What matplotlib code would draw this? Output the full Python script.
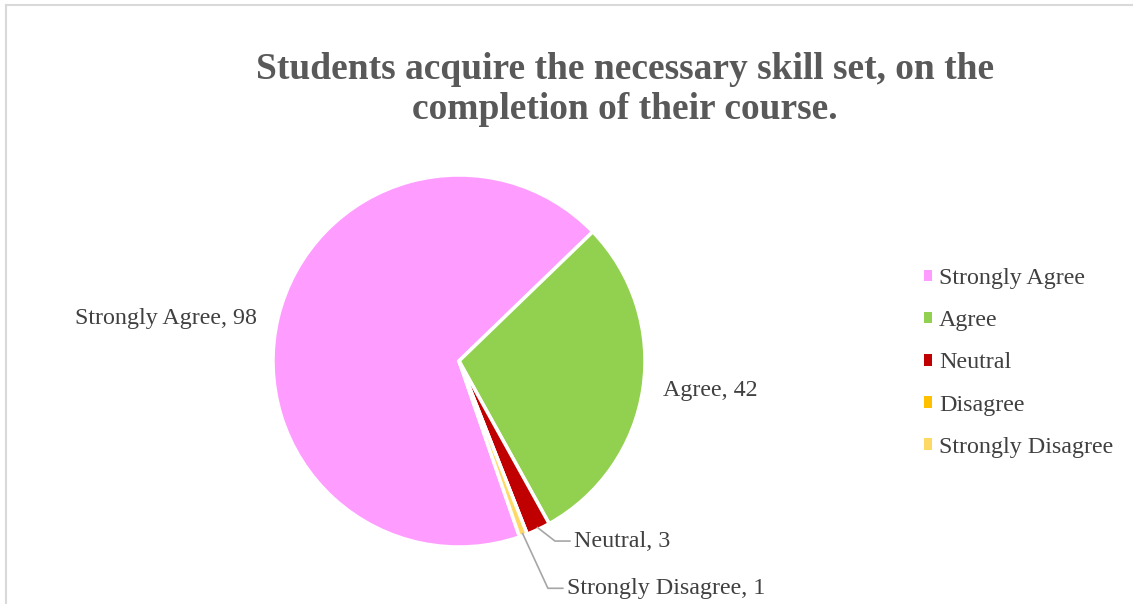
import numpy as np
import matplotlib
matplotlib.use("Agg")
from matplotlib import pyplot as plt
from matplotlib.patches import Patch
from matplotlib.lines import Line2D

categories = ["Strongly Agree", "Agree", "Neutral", "Disagree", "Strongly Disagree"]
counts = [98, 42, 3, 0, 1]
colors = ["#ff9cff", "#92d050", "#c00000", "#ffc000", "#ffd966"]

title = "Students acquire the necessary skill set, on the\ncompletion of their course."

plt.rcParams['font.family'] = ['Liberation Serif', 'DejaVu Serif']

W, H = 1133, 604
fig = plt.figure(figsize=(W / 100, H / 100), dpi=100)

# pie centre and radius in pixels
cx, cy, R = 459, 361, 186
ax = fig.add_axes([(cx - R) / W, (H - cy - R) / H, 2 * R / W, 2 * R / H])

wedges, _ = ax.pie(counts, colors=colors, startangle=-71, counterclock=False,
                   radius=1, wedgeprops=dict(edgecolor="white", linewidth=2.5))
ax.set_xlim(-1, 1)
ax.set_ylim(-1, 1)
ax.set_aspect("equal")
ax.axis("off")

txt = "#404040"
fs = 17.3

def mid_point(w, r=1.0):
    a = np.deg2rad((w.theta1 + w.theta2) / 2)
    return r * np.cos(a), r * np.sin(a)

# direct labels
ax.text(-1.086, 0.226, f"{categories[0]}, {counts[0]}", ha="right", va="center",
        fontsize=fs, color=txt)
ax.text(1.097, -0.156, f"{categories[1]}, {counts[1]}", ha="left", va="center",
        fontsize=fs, color=txt)

# leader-line labels for thin slices
for i, (ex, ty) in [(2, (0.516, -0.968)), (4, (0.478, -1.222))]:
    x0, y0 = mid_point(wedges[i], 0.99)
    ax.add_line(Line2D([x0, ex, ex + 0.08], [y0, ty, ty], color="#a6a6a6",
                       lw=1.2, clip_on=False))
    ax.text(ex + 0.1, ty, f"{categories[i]}, {counts[i]}", ha="left", va="center",
            fontsize=fs, color=txt, clip_on=False)

fig.text(625 / W, 1 - 89.5 / H, title, ha="center", va="center", fontsize=27,
         fontweight="bold", color="#595959", linespacing=1.2)

handles = [Patch(facecolor=c, edgecolor="none") for c in colors]
fig.legend(handles, categories, loc="center left", bbox_to_anchor=(902 / W, 1 - 363 / H),
           frameon=False, fontsize=fs, labelcolor=txt, handlelength=0.35,
           handleheight=0.35, handletextpad=0.3, labelspacing=0.88)

# chart border (top and left)
fig.add_artist(Line2D([6 / W, 1], [1 - 4.5 / H, 1 - 4.5 / H], color="#d9d9d9",
                      lw=1.5, transform=fig.transFigure))
fig.add_artist(Line2D([6 / W, 6 / W], [0, 1 - 4.5 / H], color="#d9d9d9",
                      lw=1.5, transform=fig.transFigure))

fig.savefig("out.png", dpi=100, facecolor="white")
